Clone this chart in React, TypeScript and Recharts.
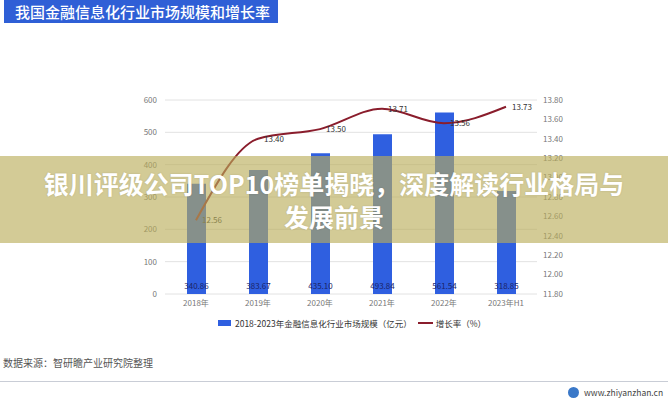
import React from 'react';
import { ComposedChart, Bar, Line, XAxis, YAxis, CartesianGrid, LabelList, Legend } from 'recharts';

const years = ['2018年', '2019年', '2020年', '2021年', '2022年', '2023年H1'];
const marketSize = [340.86, 383.67, 435.1, 493.84, 561.54, 318.85];
const growthRate = [12.56, 13.4, 13.5, 13.71, 13.56, 13.73];
const leftTicks = [0, 100, 200, 300, 400, 500, 600];
const rightTicks = [11.8, 12.0, 12.2, 12.4, 12.6, 12.8, 13.0, 13.2, 13.4, 13.6, 13.8];
const barName = '2018-2023年金融信息化行业市场规模（亿元）';
const lineName = '增长率（%）';
const titleText = '我国金融信息化行业市场规模和增长率';
const bannerLine1 = '银川评级公司TOP10榜单揭晓，深度解读行业格局与';
const bannerLine2 = '发展前景';
const sourceText = '数据来源：智研瞻产业研究院整理';
const siteText = 'www.zhiyanzhan.cn';

const data = years.map((y, i) => ({ year: y, size: marketSize[i], rate: growthRate[i] }));

const FONT = '"Noto Sans CJK SC", "Noto Sans", sans-serif';

const renderLegend = (props: any) => {
  const payload = props.payload || [];
  return (
    <div
      style={{
        display: 'flex',
        justifyContent: 'center',
        alignItems: 'center',
        height: 16,
        fontSize: 8.5,
        color: '#333',
        fontFamily: FONT,
        paddingRight: 8,
      }}
    >
      {payload.map((entry: any, i: number) => (
        <span key={i} style={{ display: 'flex', alignItems: 'center', marginRight: i === 0 ? 6 : 0 }}>
          {entry.type === 'plainline' ? (
            <span style={{ width: 15, height: 2, background: entry.color, marginRight: 3, display: 'inline-block' }} />
          ) : (
            <span style={{ width: 13, height: 6, background: entry.color, marginRight: 4, display: 'inline-block' }} />
          )}
          {entry.value}
        </span>
      ))}
    </div>
  );
};

export default function App() {
  return (
    <div
      style={{
        position: 'absolute',
        left: 0,
        top: 0,
        width: 668,
        height: 400,
        background: '#fff',
        overflow: 'hidden',
        fontFamily: FONT,
      }}
    >
      <div
        style={{
          position: 'absolute',
          left: 4,
          top: 0,
          width: 274,
          height: 23,
          background: '#2f5fd6',
          color: '#fff',
          fontSize: 15,
          lineHeight: '23px',
          paddingLeft: 11,
          boxSizing: 'border-box',
          fontWeight: 500,
        }}
      >
        {titleText}
      </div>

      <div style={{ position: 'absolute', left: 0, top: 0 }}>
        <ComposedChart width={668} height={340} data={data} margin={{ top: 100, right: 81, left: 125, bottom: 9 }}>
          <CartesianGrid yAxisId="left" vertical={false} stroke="#e2e2e2" strokeWidth={1} />
          <XAxis
            dataKey="year"
            axisLine={false}
            tickLine={false}
            tickSize={0}
            tickMargin={6}
            height={21}
            interval={0}
            tick={{ fontSize: 8, fill: '#777', fontFamily: FONT }}
          />
          <YAxis
            yAxisId="left"
            orientation="left"
            domain={[0, 600]}
            ticks={leftTicks}
            width={40}
            axisLine={false}
            tickLine={false}
            tickSize={0}
            tickMargin={8}
            tick={{ fontSize: 8, fill: '#777', fontFamily: FONT }}
          />
          <YAxis
            yAxisId="right"
            orientation="right"
            domain={[11.8, 13.8]}
            ticks={rightTicks}
            width={50}
            axisLine={false}
            tickLine={false}
            tickSize={0}
            tickMargin={6}
            tickFormatter={(v: number) => v.toFixed(2)}
            tick={{ fontSize: 8, fill: '#777', fontFamily: FONT }}
          />
          <Legend verticalAlign="bottom" content={renderLegend} />
          <Bar
            yAxisId="left"
            dataKey="size"
            name={barName}
            fill="#2f5fe0"
            barSize={19}
            legendType="rect"
            isAnimationActive={false}
          >
            <LabelList
              dataKey="size"
              position="insideBottom"
              offset={5}
              formatter={(v: any) => Number(v).toFixed(2)}
              style={{ fontSize: 8, fill: '#1b2468', fontFamily: FONT }}
            />
          </Bar>
          <Line
            yAxisId="right"
            type="monotone"
            dataKey="rate"
            name={lineName}
            stroke="#8a1d2c"
            strokeWidth={2}
            dot={false}
            activeDot={false}
            legendType="plainline"
            isAnimationActive={false}
          >
            <LabelList
              dataKey="rate"
              position="right"
              offset={6}
              formatter={(v: any) => Number(v).toFixed(2)}
              style={{ fontSize: 8, fill: '#333', fontFamily: FONT }}
            />
          </Line>
        </ComposedChart>
      </div>

      <div
        style={{
          position: 'absolute',
          left: 0,
          top: 156,
          width: 668,
          height: 87,
          background: 'rgba(185,172,88,0.63)',
          display: 'flex',
          flexDirection: 'column',
          justifyContent: 'center',
          alignItems: 'center',
          color: '#fff',
          fontWeight: 700,
          fontSize: 25,
          lineHeight: '33px',
          textShadow: '0 0 2px rgba(0,0,0,0.15)',
        }}
      >
        <div>{bannerLine1}</div>
        <div>{bannerLine2}</div>
      </div>

      <div
        style={{
          position: 'absolute',
          left: 3,
          top: 356,
          fontSize: 10,
          color: '#555',
          lineHeight: '14px',
        }}
      >
        {sourceText}
      </div>
      <div style={{ position: 'absolute', left: 0, top: 381, width: 668, height: 1, background: '#c9cdd6' }} />
      <div
        style={{
          position: 'absolute',
          left: 568,
          top: 386,
          display: 'flex',
          alignItems: 'center',
          fontSize: 8.5,
          color: '#444',
          lineHeight: '12px',
        }}
      >
        <span
          style={{
            width: 11,
            height: 11,
            borderRadius: '50%',
            background: '#3a78c8',
            display: 'inline-block',
            marginRight: 5,
          }}
        />
        {siteText}
      </div>
    </div>
  );
}
